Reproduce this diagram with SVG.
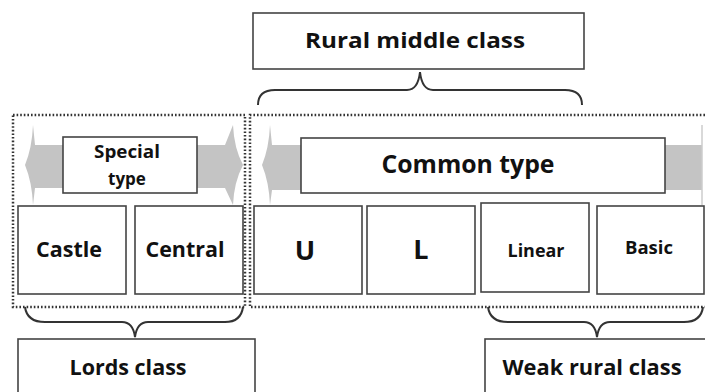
<svg xmlns="http://www.w3.org/2000/svg" width="705" height="392" viewBox="0 0 705 392">
<style>
.box{fill:#fff;stroke:#444;stroke-width:1.6}
.t{font-family:"Open Sans","Liberation Sans",sans-serif;font-weight:bold;fill:#111;text-anchor:middle}
.dot{fill:none;stroke:#333;stroke-width:2.5;stroke-dasharray:1.6 2}
.arr{fill:#c4c4c4}
.brace{fill:none;stroke:#333;stroke-width:2}
</style>
<rect width="705" height="392" fill="#fff"/>
<g id="arrows">
<path class="arr" d="M25,165 Q32,148 33,125 L35,145 L225,145 L233,125 Q234,148 243,165 Q234,182 233,205 L225,188 L35,188 L33,205 Q32,182 25,165 Z"/>
<path class="arr" d="M262,165 Q269,148 270,125 L272,145 L702,145 L702,190 L272,190 L270,205 Q269,182 262,165 Z"/>
<line x1="702" y1="125" x2="702" y2="205" stroke="#ccc" stroke-width="1.5"/>
</g>
<g id="containers">
<rect class="dot" x="13" y="115" width="232" height="192"/>
<path class="dot" d="M705,115 H250 V307 H705"/>
</g>
<g id="connectors">
<path class="brace" d="M258,105 Q258,90 275,90 L407,90 Q418,90 420,72 Q422,90 433,90 L565,90 Q582,90 582,105"/>
<path class="brace" d="M25,307 Q27,322 45,322 L122,322 Q133,322 135,337 Q137,322 148,322 L225,322 Q241,322 243,307"/>
<path class="brace" d="M488,307 Q490,322 508,322 L584,322 Q595,322 597,337 Q599,322 610,322 L684,322 Q701,322 703,307"/>
</g>
<g id="rural-middle"><rect class="box" x="253" y="13" width="331" height="56"/><text class="t" x="415" y="48" font-size="21" textLength="220" lengthAdjust="spacingAndGlyphs">Rural middle class</text></g>
<g id="special"><rect class="box" x="63" y="137" width="134" height="56"/><text class="t" x="127" y="158" font-size="17" textLength="66" lengthAdjust="spacingAndGlyphs">Special</text><text class="t" x="127" y="185" font-size="17">type</text></g>
<g id="common"><rect class="box" x="301" y="138" width="364" height="55"/><text class="t" x="468" y="173" font-size="25" textLength="173" lengthAdjust="spacingAndGlyphs">Common type</text></g>
<g id="castle"><rect class="box" x="18" y="206" width="108" height="88"/><text class="t" x="69" y="257" font-size="21" textLength="66" lengthAdjust="spacingAndGlyphs">Castle</text></g>
<g id="central"><rect class="box" x="135" y="206" width="108" height="88"/><text class="t" x="185" y="257" font-size="21" textLength="79" lengthAdjust="spacingAndGlyphs">Central</text></g>
<g id="u"><rect class="box" x="254" y="206" width="108" height="88"/><text class="t" x="305" y="260" font-size="27">U</text></g>
<g id="l"><rect class="box" x="367" y="206" width="108" height="88"/><text class="t" x="421" y="259" font-size="27">L</text></g>
<g id="linear"><rect class="box" x="481" y="203" width="108" height="89"/><text class="t" x="536" y="257" font-size="17" textLength="57" lengthAdjust="spacingAndGlyphs">Linear</text></g>
<g id="basic"><rect class="box" x="597" y="206" width="107" height="88"/><text class="t" x="649" y="254" font-size="17" textLength="48" lengthAdjust="spacingAndGlyphs">Basic</text></g>
<g id="lords"><rect class="box" x="18" y="339" width="237" height="60"/><text class="t" x="128" y="375" font-size="21" textLength="117" lengthAdjust="spacingAndGlyphs">Lords class</text></g>
<g id="weak"><rect class="box" x="485" y="339" width="230" height="60"/><text class="t" x="592" y="375" font-size="21" textLength="179" lengthAdjust="spacingAndGlyphs">Weak rural class</text></g>
</svg>
